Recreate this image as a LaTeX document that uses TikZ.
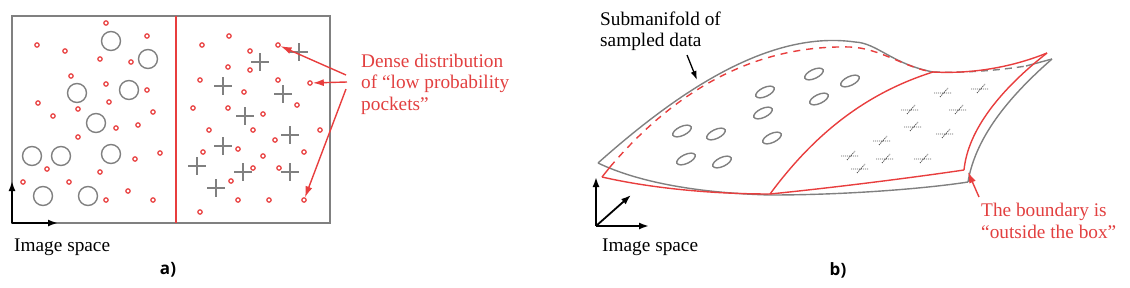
\documentclass[tikz,border=0pt]{standalone}
\usepackage{fontspec}
\setmainfont{Liberation Serif}
\newfontfamily\labfont{Open Sans}
\usetikzlibrary{arrows.meta}
\definecolor{grayline}{RGB}{128,128,128}
\definecolor{redline}{RGB}{232,62,62}
\definecolor{redtext}{RGB}{226,64,64}
\begin{document}
\begin{tikzpicture}[x=1pt,y=-1pt,
  gl/.style={draw=grayline,line width=1.4pt},
  rl/.style={draw=redline,line width=1.4pt},
  dot/.style={circle,draw=redline,line width=1.2pt,minimum size=4.4pt,inner sep=0pt},
  sq/.style={draw=grayline!70!black,line width=0.8pt,dash pattern=on 1.2pt off 0.8pt},
  axis/.style={draw=black,line width=1.8pt,-{Latex[length=10pt,width=7pt]}},
  redarrow/.style={draw=redline,line width=1.4pt,-{Latex[length=11pt,width=7pt]}},
  txt/.style={font=\fontsize{19.3}{21.7}\selectfont,inner sep=0pt,align=left,anchor=base west},
  lab/.style={font=\labfont\bfseries\fontsize{17}{20}\selectfont,inner sep=0pt}
]
\useasboundingbox (0,0) rectangle (1130,287);

% ---------- panel a ----------
\draw[gl] (12,16) rectangle (330,223);
\draw[rl] (176,16) -- (176,223);

\foreach \x/\y in {111/41,148/59,77/93,129/90,96/123,32/156,61/156,111/154,43/196,88/196}
  \draw[gl] (\x,\y) circle [radius=9.5pt];

\foreach \x/\y in {299/52,260/62,223/86,283/94,245/116,290/135,223/146,197/166,243/172,290/172,216/188}
  \draw[gl,shift={(\x,\y)}] (-9,0) -- (9,0) (0,-9) -- (0,9);

\foreach \x/\y [count=\i] in {106/23,147/36,37/45,65/51,100/59,131/62,71/76,106/84,147/90,38/103,
  109/102,78/109,153/112,53/116,116/128,138/125,78/137,160/153,135/159,47/169,100/172,23/182,
  69/182,128/191,106/200,153/200,
  229/36,202/45,250/51,228/67,250/70,200/80,278/80,244/92,297/105,193/108,228/108,263/114,
  209/130,253/130,275/140,320/130,238/149,203/152,304/152,263/156,253/168,279/168,231/181,
  238/200,269/200,200/212}
  \node[dot] (d\i) at (\x,\y) {};
\node[dot] (tA) at (278,45) {};
\node[dot] (tB) at (310,83) {};
\node[dot] (tC) at (304,200) {};

\node[txt,text=redtext] (dense) at (361,110.5) {Dense distribution\\of “low probability\\pockets”};
\coordinate (sA) at (346,75);
\coordinate (sB) at (347,82);
\coordinate (sC) at (346,89);
\draw[redarrow] (sA) -- (tA);
\draw[redarrow] (sB) -- (tB);
\draw[redarrow] (sC) -- (tC);

\coordinate (oa) at (12,223);
\coordinate (ya) at (12,181);
\coordinate (xa) at (58,223);
\draw[axis] (oa) -- (ya);
\draw[axis] (oa) -- (xa);
\node[txt] (isa) at (14,251) {Image space};
\node[lab] (la) at (168,270) {a)};

% ---------- panel b ----------
% gray surface outline
\draw[gl] (598,163) .. controls (680,90) and (770,30) .. (855,42)
  .. controls (877,43) and (892,64) .. (933,72);
\draw[gl,dashed,dash pattern=on 7pt off 5pt] (933,72) .. controls (960,73) and (995,71) .. (1026,66);
\draw[gl] (1026,66) -- (1052,59);
\draw[gl] (1052,59) .. controls (1005,100) and (975,140) .. (968,182);
\draw[gl] (968,182) .. controls (930,188) and (850,195) .. (770,195)
  .. controls (700,193) and (640,183) .. (598,163);

% red surface
\draw[rl] (602,177) -- (610,167);
\draw[rl,dash pattern=on 7pt off 6pt] (610,167) .. controls (680,85) and (760,45) .. (850,47)
  .. controls (880,48) and (905,68) .. (933,72);
\draw[rl] (933,72) .. controls (970,74) and (1010,68) .. (1047,53);
\draw[rl] (1047,53) .. controls (1000,90) and (968,130) .. (964,170);
\draw[rl] (602,177) .. controls (650,188) and (710,194) .. (770,194)
  .. controls (830,188) and (910,178) .. (964,170);
\draw[rl] (770,194) .. controls (810,140) and (860,95) .. (933,72);

% ellipses
\foreach \x/\y in {682/131,716/134,686/159,722/162,765/92,763/113,772/138,814/74,819/99,850/81}
  \draw[gl,shift={(\x,\y)},rotate=25] (0,0) ellipse [x radius=10pt,y radius=4.5pt];

% squiggles
\foreach \x/\y in {943/92,980/88,910/109,958/109,913/126,945/133,882/140,850/155,885/158,923/158,860/168}
  \draw[sq,shift={(\x,\y)}] (-9,1) -- (8,1) (-3,5) -- (5,-4);

% labels
\node[txt] (sub) at (600,46.7) {Submanifold of\\sampled data};
\coordinate (subs) at (687,55);
\coordinate (subt) at (697,80);
\draw[draw=black,line width=1.3pt,-{Latex[length=9pt,width=6pt]}] (subs) -- (subt);

\node[txt,text=redtext] (bnd) at (981,238) {The boundary is\\“outside the box”};
\coordinate (bs) at (979,197);
\coordinate (bt) at (968,172);
\draw[redarrow] (bs) -- (bt);

\coordinate (ob) at (596,226);
\coordinate (yb) at (596,177);
\coordinate (xb) at (649,226);
\coordinate (zb) at (631,195);
\draw[axis] (ob) -- (yb);
\draw[axis] (ob) -- (xb);
\draw[axis] (ob) -- (zb);
\node[txt] (isb) at (602,251) {Image space};
\node[lab] (lb) at (838,270) {b)};
\end{tikzpicture}
\end{document}
